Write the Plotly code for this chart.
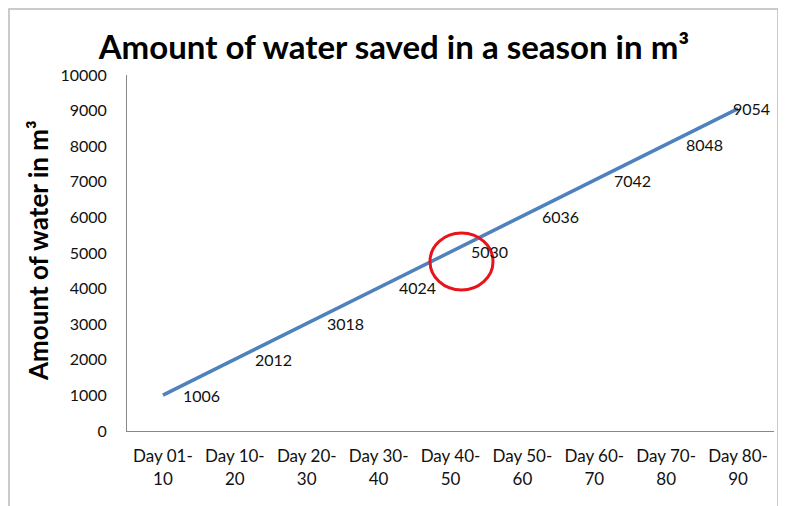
import plotly.graph_objects as go

categories = ["Day 01-<br>10", "Day 10-<br>20", "Day 20-<br>30", "Day 30-<br>40", "Day 40-<br>50",
              "Day 50-<br>60", "Day 60-<br>70", "Day 70-<br>80", "Day 80-<br>90"]
water_saved = [1006, 2012, 3018, 4024, 5030, 6036, 7042, 8048, 9054]
y_ticks = [0, 1000, 2000, 3000, 4000, 5000, 6000, 7000, 8000, 9000, 10000]
y_tick_labels = ["0", "1000", "2000", "3000", "4000", "5000", "6000", "7000", "8000", "9000", "10000"]

FONT = "Lato"
OFF = 8  # page body margin
W, H = 786 - 2 * OFF, 506 - OFF
# plot area in screen coordinates: x 127..774, y 75..431
L = 127 - OFF
R = W - (774 - OFF)
T = 75 - OFF
B = H - (431 - OFF)
pw, ph = W - L - R, H - T - B

def px(xs):
    return (xs - OFF - L) / pw

def py(ys):
    return (H - B - (ys - OFF)) / ph

label_shift = [18, 18, 18, 18, 18, 18, 18, 18, -7]

fig = go.Figure()
fig.add_trace(go.Scatter(
    x=list(range(len(categories))), y=water_saved,
    mode="lines",
    line=dict(color="#4F81BD", width=3.5),
    cliponaxis=False, showlegend=False,
))

annotations = []
for i, v in enumerate(water_saved):
    annotations.append(dict(x=i, y=v, xref="x", yref="y", text=str(v), showarrow=False,
                            xanchor="left", yanchor="middle", xshift=label_shift[i],
                            font=dict(family=FONT, size=16, color="#111")))
annotations.append(dict(x=px(38), y=py(251), xref="paper", yref="paper",
                        text="<b>Amount of water in m³</b>", textangle=-90, showarrow=False,
                        xanchor="center", yanchor="middle",
                        font=dict(family=FONT, size=26, color="#000")))

fig.update_layout(
    width=W, height=H,
    margin=dict(l=L, r=R, t=T, b=B),
    paper_bgcolor="white", plot_bgcolor="white",
    title=dict(text="<b>Amount of water saved in a season in m³</b>", x=px(394), xanchor="center",
               xref="paper", y=1 - (47 - OFF) / H, yanchor="middle",
               font=dict(family=FONT, size=33, color="#000")),
    xaxis=dict(tickmode="array", tickvals=list(range(len(categories))), ticktext=categories,
               range=[-0.5, len(categories) - 0.5], showgrid=False, zeroline=False,
               showline=True, linecolor="#888", linewidth=1, ticks="",
               ticklabelstandoff=10,
               tickfont=dict(family=FONT, size=17, color="#111")),
    yaxis=dict(range=[0, 10000], tickmode="array", tickvals=y_ticks, ticktext=y_tick_labels,
               showgrid=False, zeroline=False,
               showline=True, linecolor="#888", linewidth=1, ticks="",
               ticklabelstandoff=16,
               tickfont=dict(family=FONT, size=16, color="#111")),
    annotations=annotations,
    shapes=[
        dict(type="rect", xref="paper", yref="paper", x0=px(9), x1=px(778), y0=py(9), y1=py(560),
             line=dict(color="#BBBBBB", width=1.5), layer="below"),
        dict(type="circle", xref="paper", yref="paper", x0=px(430), x1=px(493), y0=py(290), y1=py(233),
             line=dict(color="#E8141B", width=3)),
    ],
)

fig.write_html("out.html")
